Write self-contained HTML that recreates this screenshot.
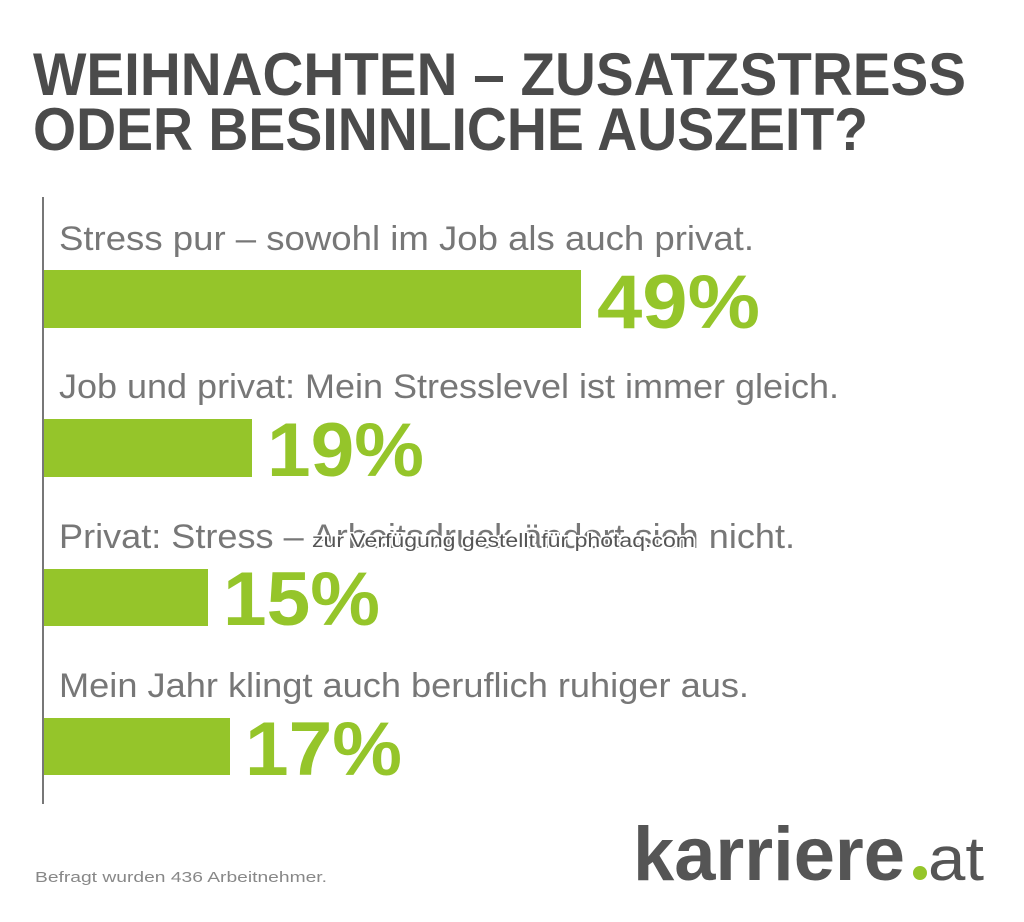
<!DOCTYPE html>
<html><head><meta charset="utf-8"><style>html,body{margin:0;padding:0;background:#fff}svg{display:block}</style></head>
<body>
<svg width="1024" height="922" viewBox="0 0 1024 922" xmlns="http://www.w3.org/2000/svg" font-family="Liberation Sans, sans-serif">
<rect width="1024" height="922" fill="#fff"/>
<g fill="#4b4b4b" font-weight="bold" font-size="60">
<text x="33" y="95" textLength="933" lengthAdjust="spacingAndGlyphs">WEIHNACHTEN – ZUSATZSTRESS</text>
<text x="33" y="150" textLength="835" lengthAdjust="spacingAndGlyphs">ODER BESINNLICHE AUSZEIT?</text>
</g>
<rect x="42" y="197" width="2" height="607" fill="#777"/>
<g fill="#777" font-size="34">
<text x="59" y="250" textLength="695" lengthAdjust="spacingAndGlyphs">Stress pur – sowohl im Job als auch privat.</text>
<text x="59" y="398" textLength="780" lengthAdjust="spacingAndGlyphs">Job und privat: Mein Stresslevel ist immer gleich.</text>
<text x="59" y="548" textLength="736" lengthAdjust="spacingAndGlyphs">Privat: Stress – Arbeitsdruck ändert sich nicht.</text>
<text x="59" y="697" textLength="690" lengthAdjust="spacingAndGlyphs">Mein Jahr klingt auch beruflich ruhiger aus.</text>
</g>
<g fill="#95c52a">
<rect x="44" y="270" width="537" height="58"/>
<rect x="44" y="419" width="208" height="58"/>
<rect x="44" y="569" width="164" height="57"/>
<rect x="44" y="718" width="186" height="57"/>
</g>
<g fill="#95c52a" font-weight="bold" font-size="76">
<text x="597" y="328" textLength="163" lengthAdjust="spacingAndGlyphs">49%</text>
<text x="267" y="476" textLength="157" lengthAdjust="spacingAndGlyphs">19%</text>
<text x="223" y="625" textLength="157" lengthAdjust="spacingAndGlyphs">15%</text>
<text x="245" y="775" textLength="157" lengthAdjust="spacingAndGlyphs">17%</text>
</g>
<text x="312" y="547" font-size="19" fill="#555" stroke="#fff" stroke-width="3" paint-order="stroke" textLength="383" lengthAdjust="spacingAndGlyphs">zur Verfügung gestellt für photaq.com</text>
<text x="35" y="882" font-size="15" fill="#888" textLength="292" lengthAdjust="spacingAndGlyphs">Befragt wurden 436 Arbeitnehmer.</text>
<text x="633" y="880" font-size="76" font-weight="bold" fill="#555" textLength="272" lengthAdjust="spacingAndGlyphs">karriere</text>
<circle cx="920" cy="873" r="7" fill="#95c52a"/>
<text x="928" y="880" font-size="62" fill="#555" textLength="56" lengthAdjust="spacingAndGlyphs">at</text>
</svg>
</body></html>
